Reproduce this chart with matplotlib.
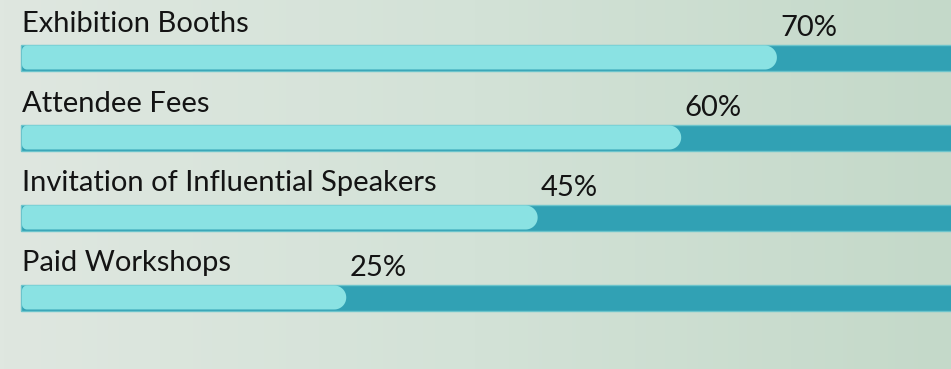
import numpy as np
import matplotlib
matplotlib.use("Agg")
import matplotlib.pyplot as plt
from matplotlib.patches import PathPatch, Rectangle
from matplotlib.path import Path
from matplotlib.colors import LinearSegmentedColormap

categories = ["Exhibition Booths", "Attendee Fees",
              "Invitation of Influential Speakers", "Paid Workshops"]
values = [70, 60, 45, 25]
value_labels = ["70%", "60%", "45%", "25%"]

W, H, DPI = 951, 369, 100
fig = plt.figure(figsize=(W / DPI, H / DPI), dpi=DPI)

# background gradient
bg = fig.add_axes([0, 0, 1, 1], zorder=0)
bg.axis("off")
cmap = LinearSegmentedColormap.from_list("bg", ["#dfe7e0", "#d3e2d7", "#c4d9c9"])
grad = np.linspace(0, 1, 256).reshape(1, -1)
bg.imshow(grad, aspect="auto", cmap=cmap, extent=[0, 1, 0, 1])

ax = fig.add_axes([0, 0, 1, 1], zorder=1)
ax.patch.set_alpha(0)
ax.axis("off")

px_per_unit = 9.57          # horizontal pixels per percent
zero_px = 107               # pixel position of 0 %
track_left_px = 21
row_px = 80                 # vertical spacing between rows
first_row_px = 57.5         # centre of the first bar
ax.set_xlim(-zero_px / px_per_unit, (W - zero_px) / px_per_unit)
ax.set_ylim((H - first_row_px) / row_px, -first_row_px / row_px)
x_start = (track_left_px - zero_px) / px_per_unit

track_h = 26 / row_px
fill_h = 24 / row_px
track_color = "#31a1b4"
fill_color = "#8ae2e3"


def pill_path(x0, x1, yc, h, r_left_px, r_right_px):
    """Closed path of a bar with rounded ends (radii given in pixels)."""
    sx = 1 / px_per_unit
    sy = 1 / row_px
    hy = h / 2
    pts = []
    # right end, top to bottom
    rr = r_right_px
    for t in np.linspace(-np.pi / 2, np.pi / 2, 40):
        pts.append((x1 - rr * sx + rr * sx * np.cos(t),
                    yc + min(rr * sy, hy) * np.sin(t)))
    # left end, bottom to top
    rl = r_left_px
    cy_off = hy - rl * sy
    for t in np.linspace(np.pi / 2, np.pi, 12):
        pts.append((x0 + rl * sx + rl * sx * np.cos(t),
                    yc + cy_off + rl * sy * np.sin(t)))
    for t in np.linspace(np.pi, 3 * np.pi / 2, 12):
        pts.append((x0 + rl * sx + rl * sx * np.cos(t),
                    yc - cy_off + rl * sy * np.sin(t)))
    pts.append(pts[0])
    return Path(pts, closed=True)


font = dict(fontsize=21, family="Lato", color="#141414", zorder=4)

for i, (cat, val, lab) in enumerate(zip(categories, values, value_labels)):
    # full-width track
    ax.add_patch(Rectangle((x_start, i - track_h / 2), 200, track_h,
                           facecolor=track_color, edgecolor="#6cc4cb",
                           linewidth=1.0, zorder=2))
    # rounded progress fill
    ax.add_patch(PathPatch(pill_path(x_start + 1 / px_per_unit, val, i,
                                     fill_h, 5, 12),
                           facecolor=fill_color, edgecolor="none", zorder=3))
    # category label
    ax.text(x_start + 1 / px_per_unit, i - (track_h / 2 + 13 / row_px), cat,
            ha="left", va="baseline", **font)
    # value label at the end of the fill
    ax.text(val + 3 / px_per_unit, i - (track_h / 2 + 9 / row_px), lab,
            ha="left", va="baseline", **font)

fig.savefig("out.png", dpi=DPI)
